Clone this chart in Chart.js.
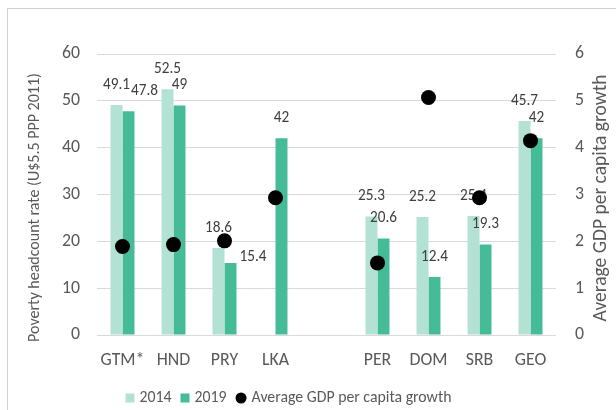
<!DOCTYPE html>
<html><head><meta charset="utf-8">
<script src="https://cdn.jsdelivr.net/npm/chart.js@4.4.0/dist/chart.umd.min.js"></script>
<style>
html,body{margin:0;padding:0;background:#fff;}
#wrap{position:relative;width:616px;height:410px;overflow:hidden;background:#fff;}
#frame{position:absolute;left:7px;top:8px;width:700px;height:500px;border:1px solid #d0d0d0;box-sizing:border-box;}
canvas{position:absolute;left:0;top:0;}
</style></head><body>
<div id="wrap"><div id="frame"></div><canvas id="c" width="616" height="410"></canvas></div>
<script>
// ---- data ----
const categories = ['GTM*', 'HND', 'PRY', 'LKA', '', 'PER', 'DOM', 'SRB', 'GEO'];
const rate2014 = [49.1, 52.5, 18.6, null, null, 25.3, 25.2, 25.4, 45.7];
const rate2019 = [47.8, 49, 15.4, 42, null, 20.6, 12.4, 19.3, 42];
const gdpGrowth = [1.89, 1.93, 2.01, 2.93, null, 1.54, 5.07, 2.93, 4.15];
const leftTicks = [0, 10, 20, 30, 40, 50, 60];
const rightTicks = [0, 1, 2, 3, 4, 5, 6];
const seriesNames = ['2014', '2019', 'Average GDP per capita growth'];
const leftTitle = 'Poverty headcount rate (U$5.5 PPP 2011)';
const rightTitle = 'Average GDP per capita growth';

// ---- styles ----
const FAMILY = 'Carlito, Lato, sans-serif';
const C2014 = '#b3e2d4';
const C2019 = '#45bb97';
const TXT = '#595959';
const LBL = '#404040';
const labelPlacement = { '2019': { 'PRY': 'right' } };

const mctx = document.createElement('canvas').getContext('2d');
function fit(text, target) {
  mctx.font = '100px ' + FAMILY;
  return +(target * 100 / mctx.measureText(text).width).toFixed(2);
}
const SZ_X = fit('DOM', 38);
const SZ_TICK = fit('60', 18);
const SZ_LBL = fit('49.1', 27);
const SZ_LEG = fit(rightTitle, 200);
const SZ_LT = fit(leftTitle, 269);
const SZ_RT = fit(rightTitle, 247);

const dataLabels = {
  id: 'dataLabels',
  beforeDatasetDraw(chart, args) {
    if (args.meta.type !== 'line') return;
    const ctx = chart.ctx;
    ctx.save();
    ctx.font = SZ_LBL + 'px ' + FAMILY;
    ctx.fillStyle = LBL;
    ctx.textBaseline = 'middle';
    ctx.textAlign = 'center';
    const placed = [];
    const barSets = chart.data.datasets.map((d, i) => i).filter(i => chart.getDatasetMeta(i).type === 'bar');
    for (let j = 0; j < categories.length; j++) {
      for (const i of barSets) {
        const ds = chart.data.datasets[i];
        const v = ds.data[j];
        if (v == null) continue;
        const el = chart.getDatasetMeta(i).data[j];
        const txt = String(v);
        const w = ctx.measureText(txt).width;
        const h = SZ_LBL * 0.9;
        const mode = (labelPlacement[ds.label] || {})[categories[j]];
        let cx, cy;
        if (mode === 'right') {
          cx = el.x + el.width / 2 + 3 + w / 2;
          cy = el.y - 6;
        } else {
          cx = el.x;
          cy = el.y - 20;
          for (const b of placed) {
            const ov = cx - w / 2 < b.r && cx + w / 2 > b.l && cy - h / 2 < b.b && cy + h / 2 > b.t;
            if (ov) cx = b.r + 1 + w / 2;
          }
        }
        placed.push({ l: cx - w / 2, r: cx + w / 2, t: cy - h / 2, b: cy + h / 2 });
        ctx.fillText(txt, cx, cy);
      }
    }
    ctx.restore();
  }
};

const extras = {
  id: 'extras',
  afterDraw(chart) {
    const ctx = chart.ctx;
    ctx.save();
    ctx.fillStyle = TXT;
    ctx.textBaseline = 'middle';
    ctx.textAlign = 'center';
    // axis titles (both read bottom to top)
    ctx.font = SZ_LT + 'px ' + FAMILY;
    ctx.save(); ctx.translate(35, 207.5); ctx.rotate(-Math.PI / 2); ctx.fillText(leftTitle, 0, 0); ctx.restore();
    ctx.font = SZ_RT + 'px ' + FAMILY;
    ctx.save(); ctx.translate(601, 198); ctx.rotate(-Math.PI / 2); ctx.fillText(rightTitle, 0, 0); ctx.restore();
    // legend
    ctx.font = SZ_LEG + 'px ' + FAMILY;
    ctx.textAlign = 'left';
    const box = 9, gap = 5, itemGap = 9, y = 398;
    const items = [
      { t: seriesNames[0], kind: 'rect', c: C2014 },
      { t: seriesNames[1], kind: 'rect', c: C2019 },
      { t: seriesNames[2], kind: 'dot', c: '#000' }
    ];
    let total = 0;
    items.forEach((it, k) => { it.w = ctx.measureText(it.t).width; total += (it.kind === 'dot' ? 11 : box) + gap + it.w + (k < items.length - 1 ? itemGap : 0); });
    let x = 288.5 - total / 2;
    for (const it of items) {
      ctx.fillStyle = it.c;
      if (it.kind === 'rect') { ctx.fillRect(x, y - box / 2, box, box); x += box; }
      else { ctx.beginPath(); ctx.arc(x + 5.5, y, 5.5, 0, Math.PI * 2); ctx.fill(); x += 11; }
      x += gap;
      ctx.fillStyle = TXT;
      ctx.fillText(it.t, x, y);
      x += it.w + itemGap;
    }
    ctx.restore();
  }
};

new Chart(document.getElementById('c'), {
  type: 'bar',
  data: {
    labels: categories,
    datasets: [
      { type: 'line', label: seriesNames[2], data: gdpGrowth, yAxisID: 'y1', showLine: false,
        pointRadius: 7.5, pointHoverRadius: 7.5, pointBackgroundColor: '#000', pointBorderColor: '#000', pointBorderWidth: 0, order: 0 },
      { label: seriesNames[0], data: rate2014, backgroundColor: C2014, yAxisID: 'y', order: 1,
        categoryPercentage: 0.47, barPercentage: 1 },
      { label: seriesNames[1], data: rate2019, backgroundColor: C2019, yAxisID: 'y', order: 2,
        categoryPercentage: 0.47, barPercentage: 1 }
    ]
  },
  options: {
    responsive: false,
    animation: false,
    devicePixelRatio: 1,
    layout: { padding: { top: 54, left: 0, right: 0, bottom: 0 } },
    plugins: { legend: { display: false }, tooltip: { enabled: false } },
    scales: {
      x: {
        offset: true,
        grid: { display: false, drawTicks: false },
        border: { display: false },
        ticks: { color: TXT, font: { family: FAMILY, size: SZ_X }, padding: 15, maxRotation: 0, autoSkip: false },
        afterFit(s) { s.height = 75; }
      },
      y: {
        position: 'left', min: 0, max: 60,
        afterBuildTicks(s) { s.ticks = leftTicks.map(v => ({ value: v })); },
        ticks: { color: TXT, font: { family: FAMILY, size: SZ_TICK }, padding: 17 },
        grid: { color: '#d9d9d9', drawTicks: false, lineWidth: 1 },
        border: { display: false },
        afterFit(s) { s.width = 97; }
      },
      y1: {
        position: 'right', min: 0, max: 6,
        afterBuildTicks(s) { s.ticks = rightTicks.map(v => ({ value: v })); },
        ticks: { color: TXT, font: { family: FAMILY, size: SZ_TICK }, padding: 19 },
        grid: { display: false, drawTicks: false },
        border: { display: false },
        afterFit(s) { s.width = 60; }
      }
    }
  },
  plugins: [dataLabels, extras]
});
</script>
</body></html>
